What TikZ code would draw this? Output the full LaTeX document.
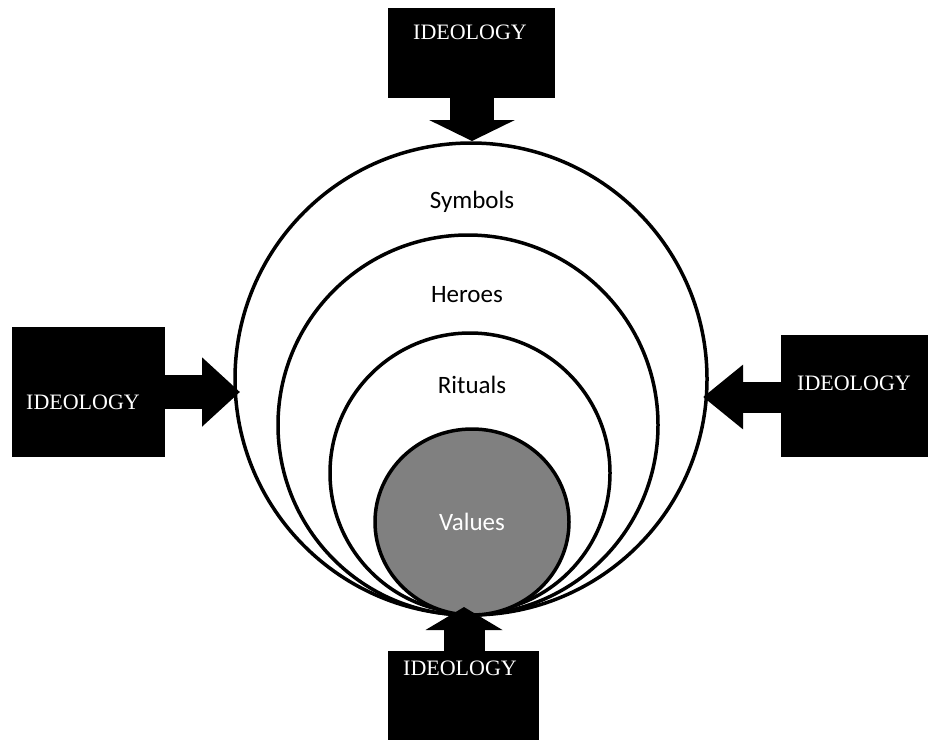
\documentclass[tikz,border=0pt]{standalone}
\usepackage{fontspec}
\setmainfont{Liberation Serif}
\newfontfamily\layerfont{Carlito}
\usetikzlibrary{arrows.meta}
\begin{document}
\begin{tikzpicture}[x=1pt,y=-1pt,
  ring/.style={draw=black,line width=3.5pt},
  layer/.style={font=\layerfont\fontsize{25}{25}\selectfont,inner sep=0pt},
  ideobox/.style={fill=black,draw=none,inner sep=0pt},
  ideotext/.style={text=white,font=\fontsize{22}{22}\selectfont,inner sep=0pt}
]
\useasboundingbox (0,0) rectangle (928,740);
% rings
\draw[ring,fill=white] (471,379) circle[radius=236];
\draw[ring,fill=white] (468,425) circle[radius=190];
\draw[ring,fill=white] (470,473) circle[radius=140];
\draw[ring,fill={rgb,255:red,128;green,128;blue,128}] (472,522) ellipse[x radius=97,y radius=93];
\node[layer] (sym) at (472,202) {Symbols};
\node[layer] (her) at (467,295) {Heroes};
\node[layer] (rit) at (472,385) {Rituals};
\node[layer,text=white] (val) at (472,522) {Values};
% boxes
\node[ideobox,minimum width=167pt,minimum height=90pt] (top) at (471.5,53) {};
\node[ideobox,minimum width=153pt,minimum height=130pt] (left) at (88.5,392) {};
\node[ideobox,minimum width=147pt,minimum height=122pt] (right) at (854.5,396) {};
\node[ideobox,minimum width=151pt,minimum height=89pt] (bot) at (463.5,695.5) {};
% arrow tips
\coordinate (ptop) at (472,141);
\coordinate (pleft) at (240,392);
\coordinate (pright) at (703,397);
\coordinate (pbot) at (464,607);
\draw[line width=44pt,-{Triangle[length=21pt,width=85pt]}] ([yshift=1pt]top.south -| ptop) -- (ptop);
\draw[line width=34pt,-{Triangle[length=38pt,width=67pt]}] ([xshift=-1pt]left.east |- pleft) -- (pleft);
\draw[line width=31pt,-{Triangle[length=40pt,width=62pt]}] ([xshift=1pt]right.west |- pright) -- (pright);
\draw[line width=41pt,-{Triangle[length=23pt,width=76pt]}] ([yshift=-1pt]bot.north -| pbot) -- (pbot);
% labels
\node[ideotext] (ttop) at (470,32) {IDEOLOGY};
\node[ideotext] (tleft) at (83,402) {IDEOLOGY};
\node[ideotext] (tright) at (854,383) {IDEOLOGY};
\node[ideotext] (tbot) at (460,668) {IDEOLOGY};
\end{tikzpicture}
\end{document}
